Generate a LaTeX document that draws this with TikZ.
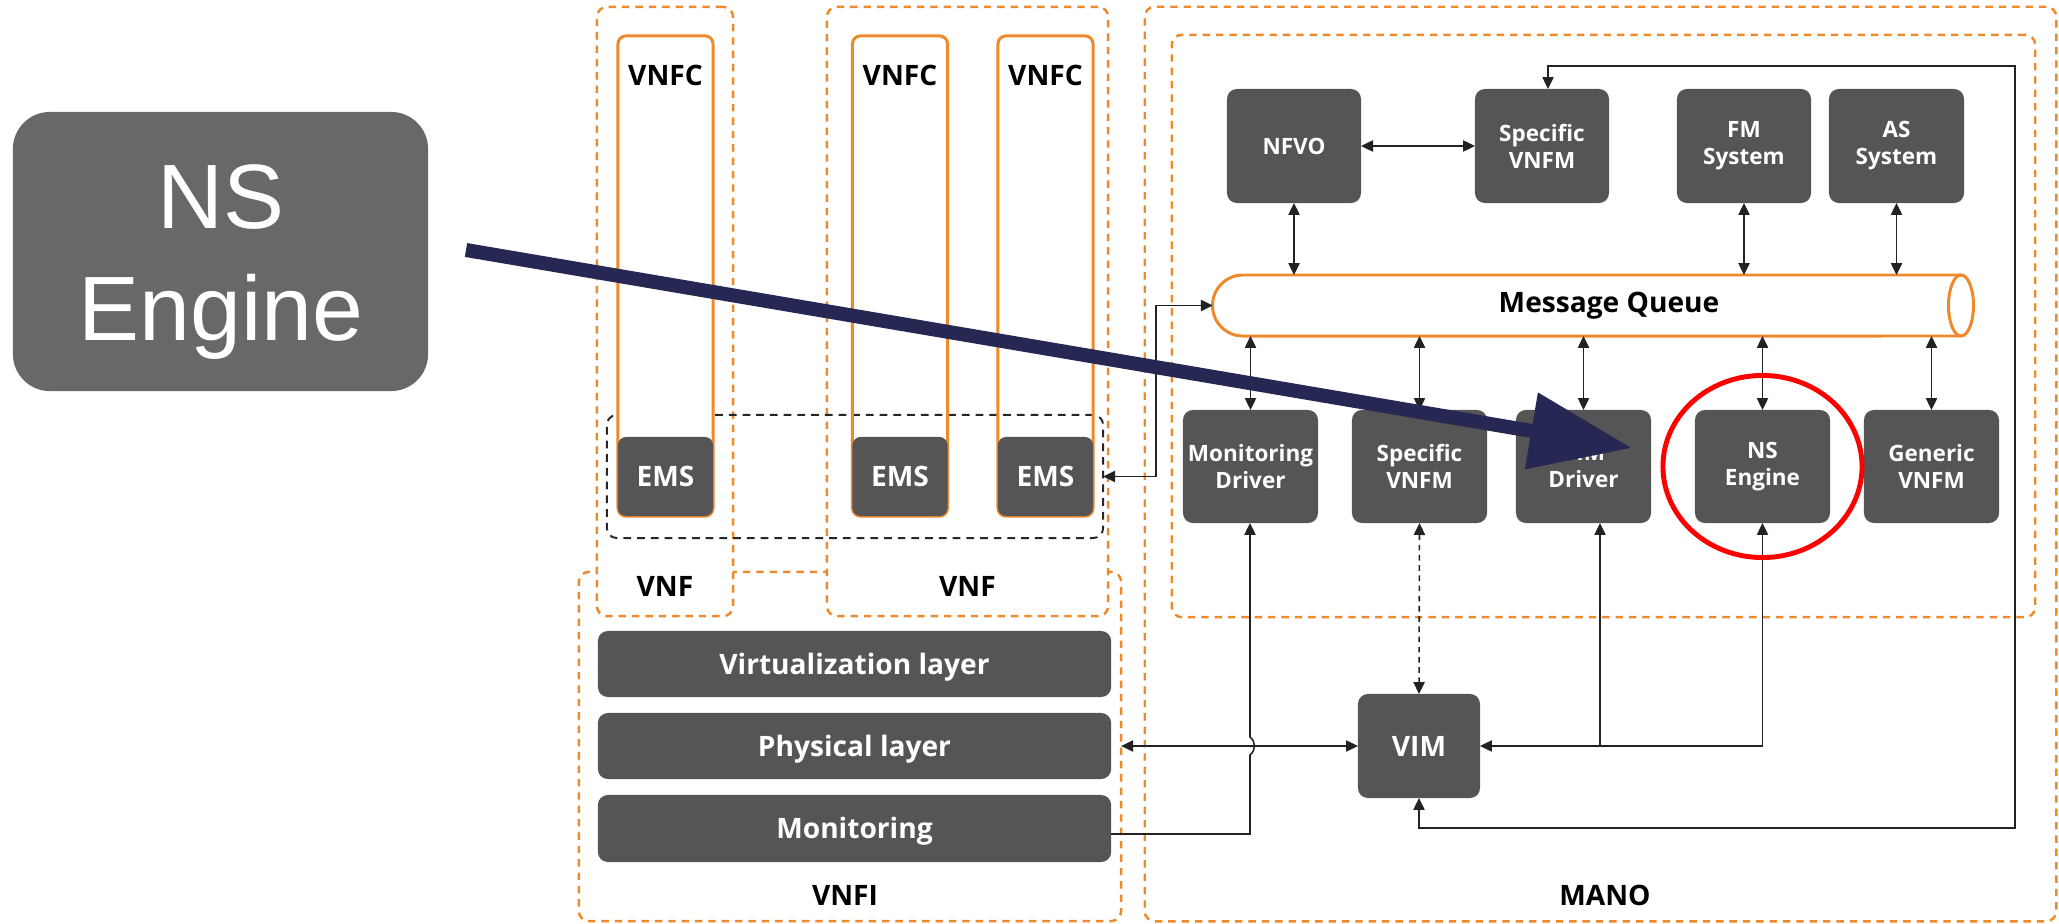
\documentclass[tikz,border=0pt]{standalone}
\usepackage{fontspec}
\setmainfont{Open Sans}
\newfontfamily\arialfont{Liberation Sans}
\usetikzlibrary{arrows.meta,shapes.geometric}
\definecolor{boxgray}{HTML}{555555}
\definecolor{biggray}{HTML}{686868}
\definecolor{vorange}{HTML}{EE8A2C}
\definecolor{navy}{HTML}{262853}
\definecolor{wirecol}{HTML}{222222}
\tikzset{
  odash/.style={draw=vorange, line width=0.7pt, dash pattern=on 2.1pt off 1.7pt,
    rounded corners=0.1cm, inner sep=0pt, outer sep=0pt},
  kdash/.style={draw=black!85, line width=0.55pt, dash pattern=on 2.2pt off 1.7pt,
    rounded corners=0.1cm, inner sep=0pt, outer sep=0pt},
  vnfcbox/.style={draw=vorange, line width=0.85pt, rounded corners=0.08cm,
    minimum width=0.95cm, minimum height=4.8cm, inner sep=0pt, outer sep=0pt},
  emsbox/.style={fill=boxgray, rounded corners=0.08cm, minimum width=0.95cm,
    minimum height=0.79cm, inner sep=0pt, outer sep=0pt, text=white,
    font=\bfseries\fontsize{8}{9.6}\selectfont, text height=5.7pt, text depth=0pt},
  dk/.style={fill=boxgray, rounded corners=0.1cm, inner sep=0pt, outer sep=0pt,
    text=white, align=center, font=\bfseries\fontsize{6.4}{7.7}\selectfont},
  dkL/.style={fill=boxgray, rounded corners=0.1cm, inner sep=0pt, outer sep=0pt,
    text=white, font=\bfseries\fontsize{8}{9.6}\selectfont, text height=5.7pt, text depth=0pt},
  lbl/.style={inner sep=0pt, outer sep=0pt, font=\bfseries\fontsize{8}{9.6}\selectfont,
    text height=5.7pt, text depth=0pt},
  wire/.style={draw=wirecol, line width=0.45pt, >={Triangle[length=3.4pt,width=3.2pt]}},
}
\begin{document}
\begin{tikzpicture}[x=0.01cm,y=-0.01cm]
\useasboundingbox (0,0) rectangle (2059,924);

% ---------- containers ----------
\node[odash, minimum width=5.42cm, minimum height=3.49cm] (vnfi) at (850,746.5) {};
\node[odash, minimum width=9.11cm, minimum height=9.14cm] (manoout) at (1600.5,464) {};
\node[odash, minimum width=8.63cm, minimum height=5.82cm] (manoin) at (1603.5,326) {};
\node[odash, fill=white, minimum width=1.36cm, minimum height=6.09cm] (vnf1) at (665,311.5) {};
\node[odash, fill=white, minimum width=2.81cm, minimum height=6.09cm] (vnf2) at (967.5,311.5) {};
\node[kdash, minimum width=4.96cm, minimum height=1.23cm] (emsgrp) at (855,476.5) {};

% ---------- VNF components ----------
\node[vnfcbox] (vnfc2) at (900,276) {};
\node[vnfcbox] (vnfc3) at (1045.5,276) {};
\node[vnfcbox, fill=white] (vnfc1) at (665.5,276) {};
\node[emsbox] (ems1) at (665.5,476.5) {EMS};
\node[emsbox] (ems2) at (900,476.5) {EMS};
\node[emsbox] (ems3) at (1045.5,476.5) {EMS};
\node[lbl] (vnfct1) at (665.5,75) {VNFC};
\node[lbl] (vnfct2) at (900,75) {VNFC};
\node[lbl] (vnfct3) at (1045.5,75) {VNFC};
\node[lbl] (vnft1) at (665,586) {VNF};
\node[lbl] (vnft2) at (967.5,586) {VNF};

% ---------- infrastructure layers ----------
\node[dkL, minimum width=5.13cm, minimum height=0.66cm] (virt) at (854.5,664) {Virtualization layer};
\node[dkL, minimum width=5.13cm, minimum height=0.66cm] (phys) at (854.5,746) {Physical layer};
\node[dkL, minimum width=5.13cm, minimum height=0.67cm] (monit) at (854.5,828.5) {Monitoring};
\node[lbl] (vnfit) at (845,895) {VNFI};
\node[lbl] (manot) at (1605,895) {MANO};

% ---------- MANO blocks ----------
\node[dk, minimum width=1.34cm, minimum height=1.14cm] (nfvo) at (1294,146) {NFVO};
\node[dk, minimum width=1.34cm, minimum height=1.14cm] (specA) at (1542,146) {Specific\\VNFM};
\node[dk, minimum width=1.34cm, minimum height=1.14cm] (fmsys) at (1744,146) {FM\\System};
\node[dk, minimum width=1.35cm, minimum height=1.14cm] (assys) at (1896.5,146) {AS\\System};

\node[dk, minimum width=1.35cm, minimum height=1.13cm] (mondrv) at (1250.5,466.5) {Monitoring\\Driver};
\node[dk, minimum width=1.35cm, minimum height=1.13cm] (specB) at (1419.5,466.5) {Specific\\VNFM};
\node[dk, minimum width=1.35cm, minimum height=1.13cm] (vimdrv) at (1583.5,466.5) {VIM\\Driver};
\node[dk, minimum width=1.35cm, minimum height=1.13cm] (nseng) at (1762.5,466.5) {NS\\Engine};
\node[dk, minimum width=1.35cm, minimum height=1.13cm] (genvnfm) at (1931.5,466.5) {Generic\\VNFM};
\node[dkL, minimum width=1.22cm, minimum height=1.04cm] (vim) at (1419,746) {VIM};

% message queue drawn as a horizontal cylinder
\node[minimum width=7.6cm, minimum height=0.61cm, inner sep=0pt, outer sep=0pt] (mq) at (1593,305.5) {};
\draw[vorange, line width=0.85pt, fill=white]
  (1961,275) -- (1243,275) arc[start angle=90, end angle=270, radius=0.305cm]
  -- (1961,336) arc[start angle=-90, end angle=90, x radius=0.125cm, y radius=0.305cm] -- cycle;
\draw[vorange, line width=0.85pt]
  (1961,275) arc[start angle=90, end angle=270, x radius=0.125cm, y radius=0.305cm];
\node[lbl, anchor=base, text height=, text depth=] (mqt) at (1609,312) {Message Queue};

% ---------- connectors ----------
\draw[wire,<->] (nfvo) -- (specA);
\draw[wire,<->] (nfvo.south) -- (nfvo.south |- mq.north);
\draw[wire,<->] (fmsys.south) -- (fmsys.south |- mq.north);
\draw[wire,<->] (assys.south) -- (assys.south |- mq.north);
\foreach \n in {mondrv,specB,vimdrv,nseng,genvnfm}
  \draw[wire,<->] (\n.north) -- (\n.north |- mq.south);

\coordinate (bendx) at (1156,0);
\draw[wire,<->] (emsgrp.east) -- (emsgrp.east -| bendx) |- (mq.west);

\coordinate (loopSE) at (2015,828);
\coordinate (loopNE) at (2015,66);
\coordinate (specAin) at ([xshift=0.06cm]specA.north);
\draw[wire,<->] (vim.south) |- (loopSE) -- (loopNE) -| (specAin);

\draw[wire,<->,dash pattern=on 1.6pt off 1.3pt] (specB.south) -- (vim.north);

\draw[wire,<->] (vnfi.east |- vim.west) -- (vim.west);

\coordinate (monport) at ([yshift=-0.055cm]monit.east);
\coordinate (hopA) at (1250,755);
\coordinate (hopB) at (1250,737);
\draw[wire,->] (monport) -| (hopA) .. controls (1256,750) and (1256,742) .. (hopB) -- (hopB |- mondrv.south);

\coordinate (vdport) at ([xshift=0.165cm]vimdrv.south);
\draw[wire,<->] (vim.east) -| (nseng.south);
\draw[wire,->] (vdport |- vim.east) -- (vdport);

% ---------- callout ----------
\node[fill=biggray, rounded corners=0.37cm, minimum width=4.15cm, minimum height=2.79cm,
  inner sep=0pt] (bigbox) at (220.5,251.5) {};
\node[text=white, align=center, inner sep=0pt,
  font=\arialfont\fontsize{26}{32}\selectfont] (bigtxt) at (221,262) {NS\\Engine};

\coordinate (ptrstart) at (466,250);
\coordinate (ptrtip) at (1632,448);
\draw[navy, line width=0.14cm, -{Triangle[length=1.02cm,width=0.74cm]}] (ptrstart) -- (ptrtip);

\node[draw=red, line width=1.4pt, ellipse, minimum width=1.99cm, minimum height=1.82cm,
  inner sep=0pt] (hl) at (nseng) {};
\end{tikzpicture}
\end{document}
